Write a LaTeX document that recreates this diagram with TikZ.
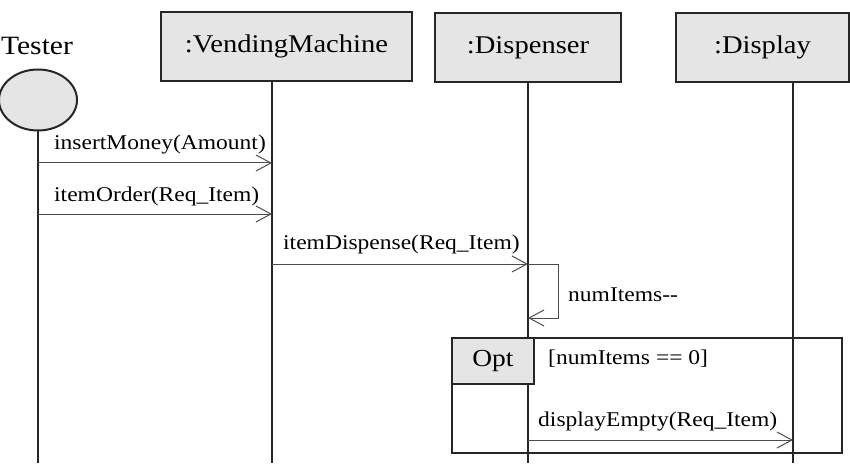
\documentclass[tikz,border=0pt]{standalone}
\usepackage{fontspec}
\setmainfont[FakeStretch=1.12]{Liberation Serif}
\usetikzlibrary{arrows.meta,shapes.geometric}
\begin{document}
\begin{tikzpicture}[x=1pt,y=-1pt,
  objbox/.style={draw=black!85,line width=2.4pt,fill=black!10,inner sep=0pt,font=\fontsize{25.5}{29}\selectfont},
  lifeline/.style={draw=black!85,line width=1.8pt},
  msg/.style={draw=black!70,line width=1pt,-{Straight Barb[length=15pt,width=16pt,line width=1pt]}},
  msglabel/.style={inner sep=0pt,anchor=west,font=\fontsize{21}{25}\selectfont}]
\useasboundingbox (0,0) rectangle (850,473);
% participants
\node (tester) at (37,46) {\fontsize{26.4}{30}\selectfont Tester};
\node[ellipse,draw=black!85,line width=2pt,fill=black!10,minimum width=78pt,minimum height=61pt] (actor) at (38,100) {};
\node[objbox,minimum width=251pt,minimum height=69pt] (vm) at (286.5,46.5) {:VendingMachine};
\node[objbox,minimum width=186pt,minimum height=69pt] (disp) at (528,47.5) {:Dispenser};
\node[objbox,minimum width=173pt,minimum height=69pt] (dsp) at (762.5,47.5) {:Display};
% lifeline ends
\coordinate (tEnd) at (38,463);
\coordinate (vEnd) at (272,463);
\coordinate (dEnd) at (528,463);
\coordinate (yEnd) at (793,463);
\draw[lifeline] (actor.south) -- (tEnd);
\draw[lifeline] (vm.south -| vEnd) -- (vEnd);
\draw[lifeline] (disp.south) -- (dEnd);
\draw[lifeline] (dsp.south -| yEnd) -- (yEnd);
% messages
\coordinate (m1a) at (38,163); \coordinate (m1b) at (272,163);
\draw[msg] (m1a) -- (m1b);
\node[msglabel] (l1) at (54,144) {insertMoney(Amount)};
\coordinate (m2a) at (38,214); \coordinate (m2b) at (272,214);
\draw[msg] (m2a) -- (m2b);
\node[msglabel] (l2) at (54,196) {itemOrder(Req\_Item)};
\coordinate (m3a) at (272,264); \coordinate (m3b) at (528,264);
\draw[msg] (m3a) -- (m3b);
\node[msglabel] (l3) at (283,244) {itemDispense(Req\_Item)};
\coordinate (s1) at (528,264); \coordinate (s2) at (558,264);
\coordinate (s3) at (558,318); \coordinate (s4) at (528,318);
\draw[msg] (s1) -- (s2) -- (s3) -- (s4);
\node[msglabel] (l4) at (568,295) {numItems-{}-};
% opt frame
\node[draw=black!85,line width=2pt,minimum width=390pt,minimum height=115pt,inner sep=0pt] (frame) at (647,395.5) {};
\node[objbox,minimum width=82pt,minimum height=46pt,font=\fontsize{24.5}{28}\selectfont] (opt) at (493,361) {Opt};
\node[msglabel] (guard) at (548,359) {[numItems == 0]};
\coordinate (m5a) at (528,440); \coordinate (m5b) at (793,440);
\draw[msg] (m5a) -- (m5b);
\node[msglabel] (l5) at (538,421) {displayEmpty(Req\_Item)};
\end{tikzpicture}
\end{document}
